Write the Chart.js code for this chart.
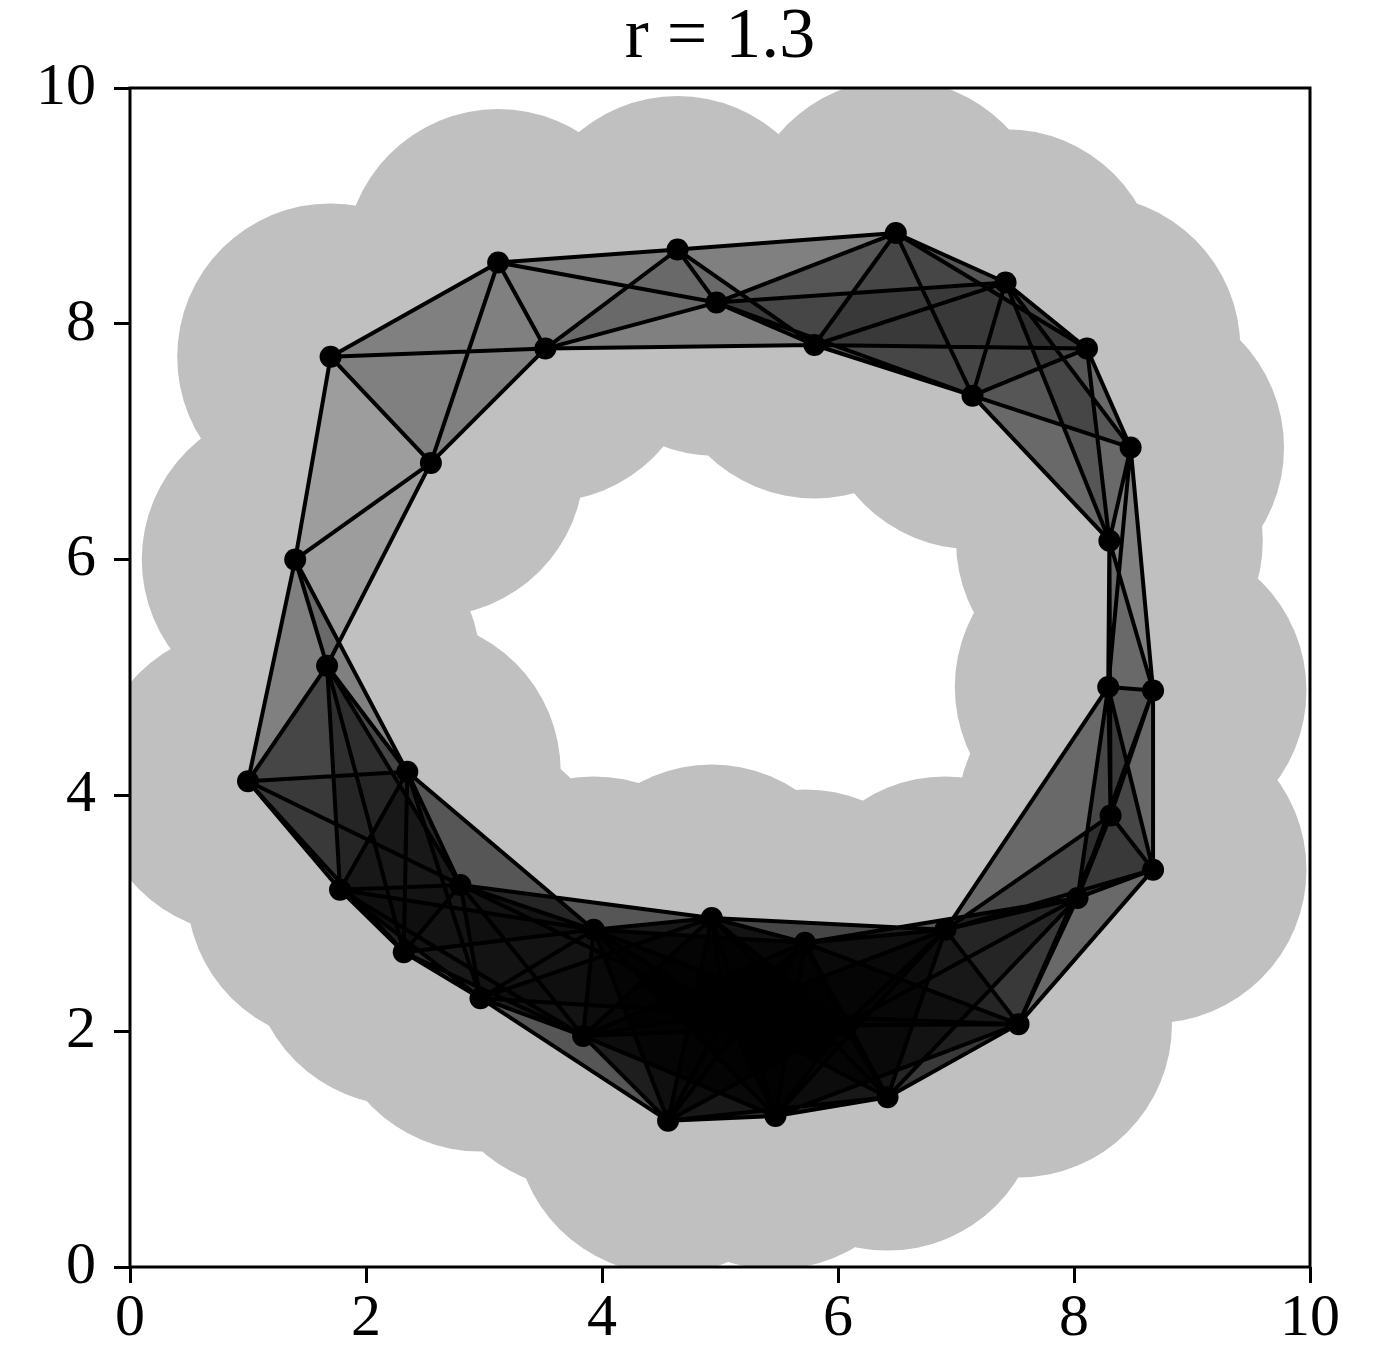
<!DOCTYPE html>
<html>
<head>
<meta charset="utf-8">
<script src="https://cdn.jsdelivr.net/npm/chart.js@4/dist/chart.umd.min.js"></script>
<style>
  body { margin: 0; background: #fff; }
  #wrap { width: 1377px; height: 1352px; }
</style>
</head>
<body>
<div id="wrap"><canvas id="myChart"></canvas></div>
<script>
// radius of the disks
const r = 1.3

// sample points (the last two sit inside the dark band)
const px = [1.00, 1.40, 1.70, 2.55, 3.12, 3.52, 4.64, 4.97, 5.80, 6.49, 7.14, 7.42,
            8.11, 8.48, 8.30, 8.29, 8.67, 8.31, 8.67, 8.03, 7.53, 6.91, 6.42, 5.47,
            4.56, 3.84, 2.97, 2.32, 1.78, 2.35, 1.67, 2.80, 3.93, 4.93, 5.72, 5.05, 6.05]
const py = [4.12, 6.00, 7.72, 6.82, 8.52, 7.79, 8.63, 8.18, 7.82, 8.77, 7.39, 8.35,
            7.79, 6.95, 6.16, 4.92, 4.89, 3.83, 3.37, 3.13, 2.06, 2.86, 1.44, 1.28,
            1.24, 1.96, 2.28, 2.67, 3.20, 4.20, 5.10, 3.24, 2.86, 2.96, 2.75, 2.15, 2.05]

const tickValues = [0, 2, 4, 6, 8, 10]

const pts = px.map((x, i) => ({ x: x, y: py[i] }))

function dist(a, b) {
    return Math.hypot(a.x - b.x, a.y - b.y)
}

function near(a, b) {
    return dist(a, b) <= 2 * r
}

// edges: disks meet
let edgeData = []
for (let i = 0; i < pts.length; i++) {
    for (let j = i + 1; j < pts.length; j++) {
        if (near(pts[i], pts[j])) {
            edgeData.push(pts[i], pts[j], { x: NaN, y: NaN })
        }
    }
}

// triangles: every pair of the three is an edge
let triSets = []
for (let i = 0; i < pts.length; i++) {
    for (let j = i + 1; j < pts.length; j++) {
        if (!near(pts[i], pts[j])) continue
        for (let k = j + 1; k < pts.length; k++) {
            if (near(pts[i], pts[k]) && near(pts[j], pts[k])) {
                triSets.push({
                    type: 'line',
                    data: [pts[i], pts[j], pts[k], pts[i]],
                    fill: 'shape',
                    backgroundColor: 'rgba(0,0,0,0.18)',
                    borderColor: 'rgba(0,0,0,0)',
                    borderWidth: 0,
                    pointRadius: 0,
                    tension: 0,
                    clip: 0,
                    order: 3
                })
            }
        }
    }
}

function diskRadius(ctx) {
    const sx = ctx.chart.scales.x
    return Math.abs(sx.getPixelForValue(r) - sx.getPixelForValue(0))
}

const frame = {
    id: 'frame',
    afterDatasetsDraw(chart) {
        const a = chart.chartArea
        const c = chart.ctx
        c.save()
        c.strokeStyle = '#000'
        c.lineWidth = 3
        c.strokeRect(a.left, a.top, a.right - a.left, a.bottom - a.top)
        c.restore()
    }
}

const tickFont = { family: 'Liberation Serif', size: 60 }

const config = {
    type: 'scatter',
    data: {
        datasets: [
            {
                type: 'scatter',
                data: pts,
                pointRadius: 11,
                pointHoverRadius: 11,
                backgroundColor: '#000',
                borderWidth: 0,
                order: 1
            },
            {
                type: 'line',
                data: edgeData,
                borderColor: '#000',
                borderWidth: 4,
                pointRadius: 0,
                spanGaps: false,
                fill: false,
                tension: 0,
                clip: 0,
                order: 2
            },
            ...triSets,
            {
                type: 'scatter',
                data: pts,
                pointRadius: diskRadius,
                pointHoverRadius: diskRadius,
                backgroundColor: '#c0c0c0',
                borderWidth: 0,
                clip: 0,
                order: 4
            }
        ]
    },
    options: {
        responsive: true,
        maintainAspectRatio: false,
        animation: false,
        events: [],
        layout: { padding: { left: 0, right: 67, top: 0, bottom: 0 } },
        plugins: {
            legend: { display: false },
            tooltip: { enabled: false },
            title: {
                display: true,
                text: 'r = 1.3',
                fullSize: false,
                color: '#000',
                font: { family: 'Liberation Serif', size: 72, weight: 'normal', lineHeight: 1 },
                padding: { top: 2, bottom: 14 }
            }
        },
        scales: {
            x: {
                type: 'linear',
                min: 0,
                max: 10,
                afterFit: (s) => { s.height = 85 },
                afterBuildTicks: (s) => { s.ticks = tickValues.map(v => ({ value: v })) },
                border: { display: false },
                grid: { drawOnChartArea: false, color: '#000', lineWidth: 3, tickLength: 16 },
                ticks: { color: '#000', font: tickFont, padding: 0, maxRotation: 0 }
            },
            y: {
                type: 'linear',
                min: 0,
                max: 10,
                afterFit: (s) => { s.width = 130 },
                afterBuildTicks: (s) => { s.ticks = tickValues.map(v => ({ value: v })) },
                border: { display: false },
                grid: { drawOnChartArea: false, color: '#000', lineWidth: 3, tickLength: 16 },
                ticks: { color: '#000', font: tickFont, padding: 18 }
            }
        }
    },
    plugins: [frame]
}

const myChart = new Chart(document.getElementById('myChart'), config)
</script>
</body>
</html>
